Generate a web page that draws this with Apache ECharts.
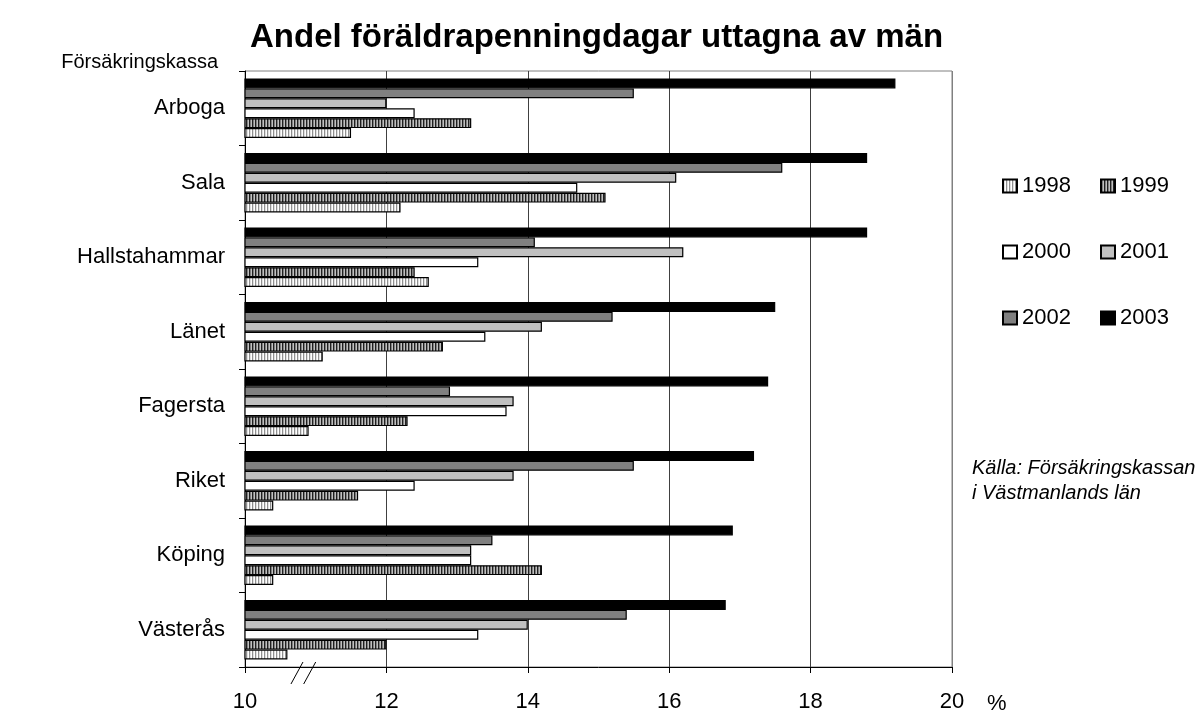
<!DOCTYPE html>
<html>
<head>
<meta charset="utf-8">
<script src="https://cdn.jsdelivr.net/npm/echarts@6/dist/echarts.min.js"></script>
<style>
html,body{margin:0;padding:0;background:#fff;}
#chart{width:1201px;height:713px;}
</style>
</head>
<body>
<div id="chart"></div>
<script>
const categories = ['Arboga', 'Sala', 'Hallstahammar', 'Länet', 'Fagersta', 'Riket', 'Köping', 'Västerås'];
const years = ['1998', '1999', '2000', '2001', '2002', '2003'];
const v1998 = [11.5, 12.2, 12.6, 11.1, 10.9, 10.4, 10.4, 10.6];
const v1999 = [13.2, 15.1, 12.4, 12.8, 12.3, 11.6, 14.2, 12.0];
const v2000 = [12.4, 14.7, 13.3, 13.4, 13.7, 12.4, 13.2, 13.3];
const v2001 = [12.0, 16.1, 16.2, 14.2, 13.8, 13.8, 13.2, 14.0];
const v2002 = [15.5, 17.6, 14.1, 15.2, 12.9, 15.5, 13.5, 15.4];
const v2003 = [19.2, 18.8, 18.8, 17.5, 17.4, 17.2, 16.9, 16.8];
const xTicks = [10, 12, 14, 16, 18, 20];

const FONT = 'Liberation Sans';

function stripes(cols) {
  const c = document.createElement('canvas');
  c.width = cols.length; c.height = 4;
  const ctx = c.getContext('2d');
  cols.forEach((col, i) => { ctx.fillStyle = col; ctx.fillRect(i, 0, 1, 4); });
  return { image: c, repeat: 'repeat' };
}

const fills = [
  stripes(['#909090', '#e0e0e0', '#ffffff']),
  stripes(['#202020', '#808080', '#c0c0c0']),
  '#ffffff',
  '#c0c0c0',
  '#808080',
  '#000000'
];
const values = [v1998, v1999, v2000, v2001, v2002, v2003];

const chart = echarts.init(document.getElementById('chart'), null, { renderer: 'canvas' });

// 2003 drawn first so it sits at the top of each group, 1998 at the bottom
const series = years.map((y, i) => ({
  name: y,
  type: 'bar',
  data: values[i],
  barCategoryGap: '20%',
  barGap: '0%',
  itemStyle: { color: fills[i], borderColor: '#000', borderWidth: 1.2 },
  emphasis: { disabled: true },
  animation: false
})).reverse();

const gridColors = ['#404040', '#404040', '#404040', '#404040', '#404040', '#808080'];
const legendText = { fontFamily: FONT, fontSize: 22, color: '#000', lineHeight: 22 };

chart.setOption({
  animation: false,
  backgroundColor: '#fff',
  textStyle: { fontFamily: FONT },
  title: {
    text: 'Andel föräldrapenningdagar uttagna av män',
    left: 245, top: 16,
    textStyle: { fontFamily: FONT, fontWeight: 'bold', fontSize: 33, color: '#000', lineHeight: 33 }
  },
  legend: [
    {
      data: ['1998', '2000', '2002'], orient: 'vertical', left: 997, top: 170,
      itemWidth: 14, itemHeight: 13, itemGap: 44, selectedMode: false, icon: 'rect',
      textStyle: legendText
    },
    {
      data: ['1999', '2001', '2003'], orient: 'vertical', left: 1095, top: 170,
      itemWidth: 14, itemHeight: 13, itemGap: 44, selectedMode: false, icon: 'rect',
      textStyle: legendText
    }
  ],
  grid: { left: 245, top: 71, width: 707, height: 598, show: true, borderColor: '#808080', borderWidth: 1, containLabel: false },
  xAxis: {
    type: 'value', min: xTicks[0], max: xTicks[xTicks.length - 1], interval: 2,
    axisLine: { show: true, lineStyle: { color: '#000', width: 1 } },
    axisTick: { show: true, length: 6, lineStyle: { color: '#000' } },
    axisLabel: { fontFamily: FONT, fontSize: 22, color: '#000', margin: 24 },
    splitLine: { show: true, lineStyle: { color: gridColors, width: 1 } }
  },
  yAxis: {
    type: 'category', data: categories, inverse: true,
    axisLine: { show: true, lineStyle: { color: '#000', width: 1 } },
    axisTick: { show: true, length: 6, lineStyle: { color: '#000' } },
    axisLabel: { fontFamily: FONT, fontSize: 22, color: '#000', margin: 20 },
    splitLine: { show: false }
  },
  series: series
});

function addGraphics() {
  const x1 = chart.convertToPixel({ xAxisIndex: 0 }, 10.65);
  const x2 = chart.convertToPixel({ xAxisIndex: 0 }, 10.82);
  const x3 = chart.convertToPixel({ xAxisIndex: 0 }, 10.83);
  const x4 = chart.convertToPixel({ xAxisIndex: 0 }, 11.0);
  const axisY = 669;
  chart.setOption({
    graphic: [
      { type: 'line', shape: { x1: x1, y1: axisY + 15, x2: x2, y2: axisY - 7 }, style: { stroke: '#000', lineWidth: 1 } },
      { type: 'line', shape: { x1: x3, y1: axisY + 15, x2: x4, y2: axisY - 7 }, style: { stroke: '#000', lineWidth: 1 } },
      { type: 'text', x: 218, y: 62, style: { text: 'Försäkringskassa', fontSize: 20, fontFamily: FONT, fill: '#000', align: 'right', verticalAlign: 'middle' } },
      { type: 'text', x: 972, y: 456, style: { text: 'Källa: Försäkringskassan\ni Västmanlands län', fontSize: 20, fontStyle: 'italic', fontFamily: FONT, fill: '#000', lineHeight: 25, align: 'left', verticalAlign: 'top' } },
      { type: 'text', x: 987, y: 704, style: { text: '%', fontSize: 22, fontFamily: FONT, fill: '#000', align: 'left', verticalAlign: 'middle' } }
    ]
  });
}
addGraphics();
</script>
</body>
</html>
